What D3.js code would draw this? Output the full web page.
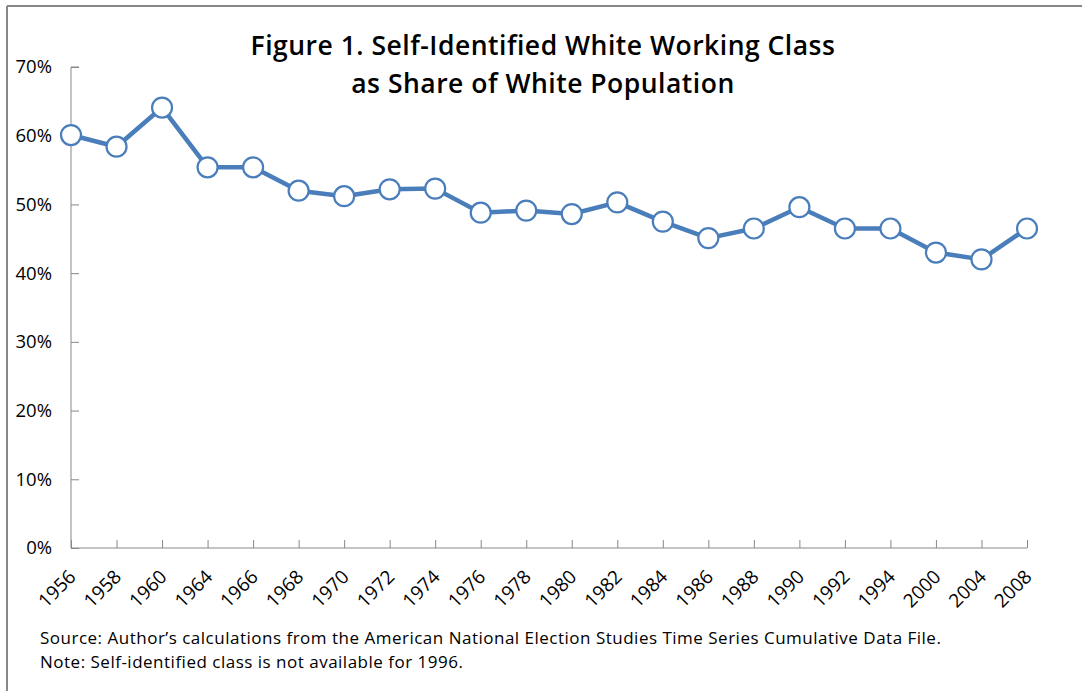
<!DOCTYPE html>
<html>
<head>
<meta charset="utf-8">
<script src="https://cdn.jsdelivr.net/npm/d3@7"></script>
<style>
  body { margin: 0; background: #fff; }
  svg text { font-family: "Open Sans", Lato, sans-serif; fill: #000; }
</style>
</head>
<body>
<svg id="chart" width="1082" height="691"></svg>
<script>
var years = ["1956", "1958", "1960", "1964", "1966", "1968", "1970", "1972", "1974", "1976", "1978",
             "1980", "1982", "1984", "1986", "1988", "1990", "1992", "1994", "2000", "2004", "2008"];
var share = [60.1, 58.4, 64.1, 55.4, 55.4, 52.0, 51.2, 52.2, 52.3, 48.8, 49.1,
             48.6, 50.3, 47.5, 45.1, 46.5, 49.6, 46.5, 46.5, 43.0, 42.0, 46.5];
var yTicks = [0, 10, 20, 30, 40, 50, 60, 70];
var titleLines = ["Figure 1. Self-Identified White Working Class", "as Share of White Population"];
var notes = ["Source: Author\u2019s calculations from the American National Election Studies Time Series Cumulative Data File.",
             "Note: Self-identified class is not available for 1996."];

var svg = d3.select("#chart");
var blue = "#4a7ebb";

// outer frame (only top/left edges visible in the source)
svg.append("line").attr("x1", 7).attr("y1", 6).attr("x2", 1082).attr("y2", 6)
  .attr("stroke", "#888").attr("stroke-width", 2);
svg.append("line").attr("x1", 7).attr("y1", 6).attr("x2", 7).attr("y2", 691)
  .attr("stroke", "#888").attr("stroke-width", 2);

var x = d3.scalePoint().domain(years).range([71, 1027]);
var y = d3.scaleLinear().domain([0, 70]).range([548, 67]);

// y axis
var yAxis = svg.append("g").attr("transform", "translate(71,0)")
  .call(d3.axisRight(y).tickValues(yTicks).tickSize(8).tickFormat(function (d) { return d + "%"; }));
yAxis.select(".domain").attr("stroke", "#888").attr("d", "M8,67H0V548");
yAxis.selectAll(".tick line").attr("stroke", "#888");
yAxis.selectAll(".tick text")
  .attr("x", -19).attr("text-anchor", "end")
  .attr("font-size", 18.5).attr("fill", "#000");

// x axis
var xAxis = svg.append("g").attr("transform", "translate(0,548)")
  .call(d3.axisTop(x).tickSize(8).tickFormat(""));
xAxis.select(".domain").attr("stroke", "#888").attr("d", "M71,0H1027");
xAxis.selectAll(".tick line").attr("stroke", "#888");

svg.append("g").selectAll("text").data(years).enter().append("text")
  .attr("transform", function (d) { return "translate(" + (x(d) + 6) + ",578) rotate(-45)"; })
  .attr("text-anchor", "end")
  .attr("font-size", 19)
  .text(function (d) { return d; });

// line + markers
var pts = years.map(function (d, i) { return { year: d, v: share[i] }; });
svg.append("path").datum(pts)
  .attr("fill", "none").attr("stroke", blue).attr("stroke-width", 4.5)
  .attr("stroke-linejoin", "round")
  .attr("d", d3.line().x(function (d) { return x(d.year); }).y(function (d) { return y(d.v); }));

svg.append("g").selectAll("circle").data(pts).enter().append("circle")
  .attr("cx", function (d) { return x(d.year); })
  .attr("cy", function (d) { return y(d.v); })
  .attr("r", 10)
  .attr("fill", "#fff").attr("stroke", blue).attr("stroke-width", 2.2);

// title
svg.append("g").selectAll("text").data(titleLines).enter().append("text")
  .attr("x", 543).attr("y", function (d, i) { return 55 + i * 38; })
  .attr("text-anchor", "middle").attr("font-size", 26.5).attr("font-weight", 600)
  .attr("letter-spacing", 0.5)
  .text(function (d) { return d; });

// footnotes
svg.append("g").selectAll("text").data(notes).enter().append("text")
  .attr("x", 40).attr("y", function (d, i) { return 644 + i * 24; })
  .attr("font-size", 17).attr("letter-spacing", 0.5)
  .text(function (d) { return d; });
</script>
</body>
</html>
